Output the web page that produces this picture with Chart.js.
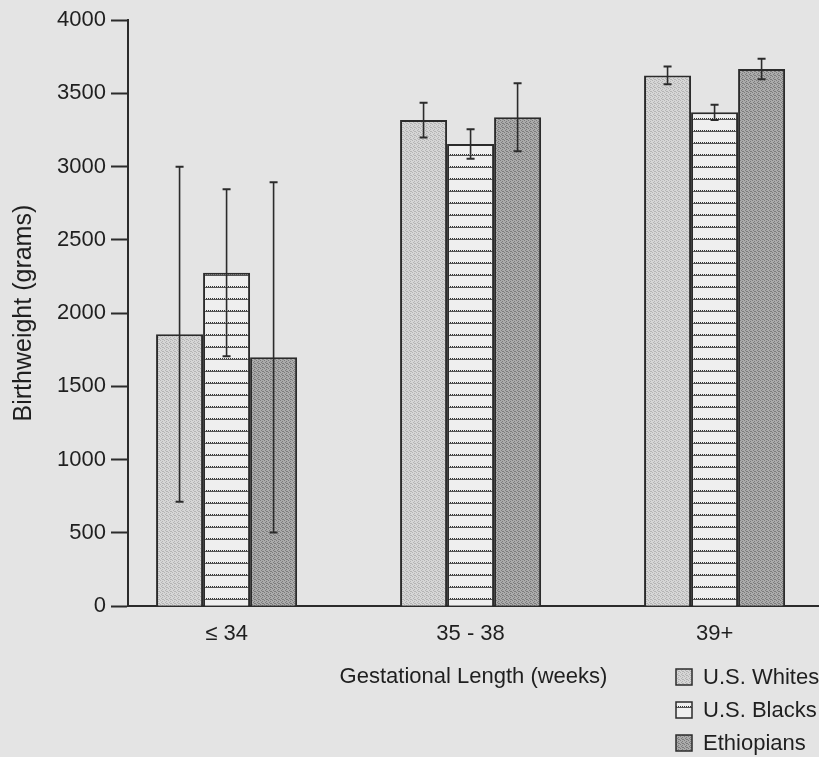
<!DOCTYPE html>
<html>
<head>
<meta charset="utf-8">
<script src="https://cdn.jsdelivr.net/npm/chart.js@4.4.1/dist/chart.umd.min.js"></script>
<style>
  html, body { margin: 0; padding: 0; background: #e4e4e4; overflow: hidden; }
  #wrap { width: 819px; height: 757px; }
</style>
</head>
<body>
<div id="wrap"><canvas id="bwChart" width="819" height="757"></canvas></div>
<script>
// categories and series
const categories = ['≤ 34', '35 - 38', '39+'];
const seriesNames = ['U.S. Whites', 'U.S. Blacks', 'Ethiopians'];

const whites = [1855, 3317, 3622];
const whitesErr = [1143, 118, 60];
const blacks = [2275, 3154, 3370];
const blacksErr = [570, 100, 52];
const ethiopians = [1698, 3336, 3666];
const ethiopiansErr = [1195, 232, 70];

const yTickStep = 500;
const yMax = 4000;

const ink = '#2b2b2b';

// little tiles to mimic the printed screen fills
function stipple(light, dark) {
    const c = document.createElement('canvas');
    c.width = 4; c.height = 4;
    const g = c.getContext('2d');
    g.fillStyle = light;
    g.fillRect(0, 0, 4, 4);
    g.fillStyle = dark;
    [[0, 0], [2, 1], [1, 2], [3, 3], [2, 3]].forEach(p => g.fillRect(p[0], p[1], 1, 1));
    return g.createPattern(c, 'repeat');
}

function hatch() {
    const c = document.createElement('canvas');
    c.width = 4; c.height = 12;
    const g = c.getContext('2d');
    g.fillStyle = '#efefef';
    g.fillRect(0, 0, 4, 12);
    g.fillStyle = '#333';
    g.fillRect(0, 10, 1, 1);
    g.fillRect(2, 10, 1, 1);
    g.fillStyle = '#555';
    g.fillRect(0, 11, 4, 1);
    return g.createPattern(c, 'repeat');
}

const fills = [stipple('#d6d6d6', '#b4b4b4'), hatch(), stipple('#ababab', '#7c7c7c')];
const seriesValues = [whites, blacks, ethiopians];
const seriesErrors = [whitesErr, blacksErr, ethiopiansErr];

const errorBars = {
    id: 'errorBars',
    afterDatasetsDraw(chart) {
        const ctx = chart.ctx;
        const y = chart.scales.y;
        ctx.save();
        ctx.strokeStyle = ink;
        chart.data.datasets.forEach((ds, i) => {
            const meta = chart.getDatasetMeta(i);
            meta.data.forEach((bar, j) => {
                const v = seriesValues[i][j];
                const e = seriesErrors[i][j];
                const top = y.getPixelForValue(v + e);
                const bot = y.getPixelForValue(v - e);
                ctx.lineWidth = 1.6;
                ctx.beginPath();
                ctx.moveTo(bar.x, top);
                ctx.lineTo(bar.x, bot);
                ctx.stroke();
                ctx.lineWidth = 2;
                ctx.beginPath();
                ctx.moveTo(bar.x - 4, top);
                ctx.lineTo(bar.x + 4, top);
                ctx.moveTo(bar.x - 4, bot);
                ctx.lineTo(bar.x + 4, bot);
                ctx.stroke();
            });
        });
        ctx.restore();
    }
};

// legend sits in the bottom right corner, stacked
const stackedLegend = {
    id: 'stackedLegend',
    afterDraw(chart) {
        const ctx = chart.ctx;
        const x0 = chart.width - 143;
        const y0 = chart.height - 80;
        ctx.save();
        ctx.font = '22px "Liberation Sans", Arial, sans-serif';
        ctx.textBaseline = 'middle';
        chart.data.datasets.forEach((ds, i) => {
            const cy = y0 + i * 33;
            ctx.fillStyle = ds.backgroundColor;
            ctx.fillRect(x0, cy - 8, 16, 16);
            ctx.strokeStyle = ink;
            ctx.lineWidth = 1.5;
            ctx.strokeRect(x0, cy - 8, 16, 16);
            ctx.fillStyle = '#1f1f1f';
            ctx.fillText(ds.label, x0 + 27, cy + 1);
        });
        ctx.restore();
    }
};

Chart.defaults.font.family = '"Liberation Sans", Arial, sans-serif';
Chart.defaults.color = '#1f1f1f';

new Chart(document.getElementById('bwChart'), {
    type: 'bar',
    data: {
        datasets: seriesNames.map((name, i) => ({
            label: name,
            data: seriesValues[i].map((v, j) => ({ x: j, y: v })),
            backgroundColor: fills[i],
            borderColor: ink,
            borderWidth: 2,
            borderSkipped: 'bottom',
            categoryPercentage: 0.578,
            barPercentage: 1
        }))
    },
    options: {
        responsive: false,
        animation: false,
        devicePixelRatio: 1,
        layout: { padding: { top: 20, right: 0, bottom: 67, left: 0 } },
        plugins: {
            legend: { display: false },
            tooltip: { enabled: false }
        },
        scales: {
            x: {
                type: 'linear',
                min: -0.404,
                max: 2.428,
                offset: false,
                grid: { display: false, drawTicks: false, offset: false },
                border: { display: true, width: 2, color: ink },
                afterBuildTicks: s => { s.ticks = categories.map((c, i) => ({ value: i })); },
                ticks: {
                    padding: 15,
                    font: { size: 22 },
                    callback: v => categories[v] !== undefined ? categories[v] : ''
                },
                title: {
                    display: true,
                    text: 'Gestational Length (weeks)',
                    font: { size: 22 },
                    padding: { top: 1, bottom: 0 }
                }
            },
            y: {
                min: 0,
                max: yMax,
                afterFit: s => { s.width = 128; },
                grid: { drawOnChartArea: false, tickLength: 17, tickWidth: 2, color: ink },
                border: { display: true, width: 2, color: ink },
                ticks: {
                    stepSize: yTickStep,
                    padding: 5,
                    font: { size: 22 },
                    callback: v => String(v)
                },
                title: {
                    display: true,
                    text: 'Birthweight (grams)',
                    font: { size: 25 },
                    padding: { top: 9, bottom: 0 }
                }
            }
        }
    },
    plugins: [errorBars, stackedLegend]
});
</script>
</body>
</html>
